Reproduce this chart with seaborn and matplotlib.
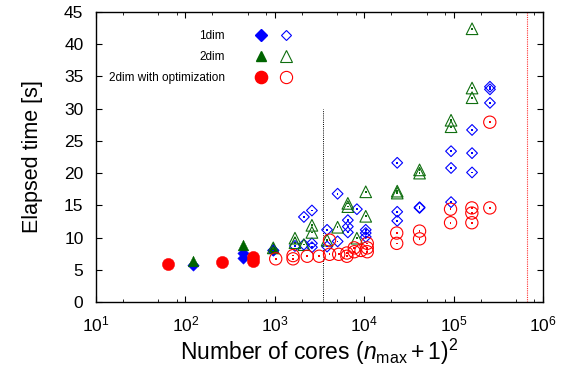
import matplotlib
matplotlib.use("Agg")
import matplotlib.pyplot as plt
from matplotlib.ticker import LogLocator, NullFormatter
from matplotlib.legend_handler import HandlerTuple
from matplotlib.lines import Line2D
import seaborn as sns
import pandas as pd

# ---------------- data ----------------
# filled markers
d1_fill_x = [121, 441, 441, 961]
d1_fill_y = [5.7, 7.6, 6.9, 8.0]
d2_fill_x = [121, 441, 961]
d2_fill_y = [6.4, 8.8, 8.4]
opt_fill_x = [64, 256, 576, 576]
opt_fill_y = [5.9, 6.25, 7.0, 6.4]

# open markers
d1_open_x = [961, 1681, 2116, 2116, 2601, 2601, 2601, 3844, 3844, 5041, 5041,
             6561, 6561, 6561, 8281, 10404, 10404, 10404, 23409, 23409, 23409,
             41616, 41616, 93636, 93636, 93636, 160801, 160801, 160801,
             255025, 255025, 255025]
d1_open_y = [8.0, 8.7, 13.2, 8.9, 14.2, 9.1, 8.5, 11.2, 8.6, 16.8, 9.4,
             12.7, 11.7, 10.8, 14.4, 11.2, 10.7, 10.1, 21.6, 14.0, 12.6,
             14.6, 14.7, 23.4, 20.8, 15.5, 26.7, 23.1, 20.1,
             33.4, 33.0, 30.9]
d2_open_x = [961, 1681, 1681, 2116, 2601, 2601, 3844, 5041, 6561, 6561, 8281,
             10404, 10404, 23409, 23409, 41616, 41616, 93636, 93636,
             160801, 160801, 160801]
d2_open_y = [8.4, 9.9, 9.2, 8.9, 11.9, 10.8, 9.6, 11.6, 15.3, 14.8, 9.9,
             17.1, 13.3, 17.2, 16.9, 20.5, 20.0, 28.2, 27.2,
             42.4, 33.2, 31.7]
opt_open_x = [1024, 1600, 1600, 2304, 3136, 4096, 4096, 5184, 6400, 6400,
              7744, 7744, 9216, 10816, 10816, 10816, 23104, 23104, 41616, 41616,
              92416, 92416, 160000, 160000, 160000, 254016, 254016]
opt_open_y = [6.7, 7.2, 6.7, 7.1, 7.1, 9.6, 7.4, 7.4, 7.6, 7.1,
              8.4, 7.8, 8.0, 9.1, 8.4, 7.8, 10.7, 9.1, 11.0, 9.8,
              14.4, 12.3, 14.6, 13.8, 12.3, 27.9, 14.6]

labels = ["1dim", "2dim", "2dim with optimization"]
vline_black_x = 3456
vline_black_ymax = 30.0
vline_red_x = 663552
xlim = (10, 1e6)
ylim = (0, 45)
yticks = list(range(0, 50, 5))

# ---------------- style ----------------
sns.set_theme(style="white")
plt.rcParams['font.family'] = ['Liberation Sans', 'DejaVu Sans']
plt.rcParams['mathtext.fontset'] = 'custom'
plt.rcParams['mathtext.rm'] = 'Liberation Sans'
plt.rcParams['mathtext.it'] = 'Liberation Sans:italic'
plt.rcParams['mathtext.bf'] = 'Liberation Sans:bold'
plt.rcParams['text.color'] = 'black'
plt.rcParams['axes.labelcolor'] = 'black'
plt.rcParams['xtick.color'] = 'black'
plt.rcParams['ytick.color'] = 'black'

BLUE = "#0000ff"
GREEN = "#006400"
GREEN_O = "#0f6e0f"
RED = "#ff0000"

fig = plt.figure(figsize=(5.73, 3.73), dpi=100)
ax = fig.add_axes([96/573, 1 - 302/373, 447/573, 290/373])

def df(x, y):
    return pd.DataFrame({"x": x, "y": y})

# filled
sns.scatterplot(data=df(d1_fill_x, d1_fill_y), x="x", y="y", ax=ax, marker="D",
                s=34, color=BLUE, edgecolor=BLUE, linewidth=0.3, zorder=3)
sns.scatterplot(data=df(d2_fill_x, d2_fill_y), x="x", y="y", ax=ax, marker="^",
                s=60, color=GREEN, edgecolor=GREEN, linewidth=0.3, zorder=3)
sns.scatterplot(data=df(opt_fill_x, opt_fill_y), x="x", y="y", ax=ax, marker="o",
                s=78, color=RED, edgecolor=RED, linewidth=0.3, zorder=3)

# open
for xs, ys, mk, sz, col in [(d1_open_x, d1_open_y, "D", 30, BLUE),
                            (d2_open_x, d2_open_y, "^", 70, GREEN_O),
                            (opt_open_x, opt_open_y, "o", 78, RED)]:
    sns.scatterplot(data=df(xs, ys), x="x", y="y", ax=ax, marker=mk, s=sz,
                    facecolor="none", edgecolor=col, linewidth=0.8, zorder=3)
    sns.scatterplot(data=df(xs, ys), x="x", y="y", ax=ax, marker="s", s=1.5,
                    color=col, edgecolor="none", linewidth=0, zorder=4)

# vertical dotted lines
ax.plot([vline_black_x, vline_black_x], [0, vline_black_ymax], color="black",
        lw=0.7, ls=(0, (1, 1.2)), zorder=2)
ax.axvline(vline_red_x, color="#ff3030", lw=0.8, ls=(0, (1, 1.0)), zorder=2)

ax.set_xscale("log")
ax.set_xlim(*xlim)
ax.set_ylim(*ylim)
ax.set_yticks(yticks)
ax.xaxis.set_major_locator(LogLocator(base=10, numticks=10))
ax.xaxis.set_minor_locator(LogLocator(base=10, subs=[2, 5, 8], numticks=20))
ax.xaxis.set_minor_formatter(NullFormatter())

for sp in ax.spines.values():
    sp.set_color("black")
    sp.set_linewidth(1.0)

ax.tick_params(axis="both", which="major", direction="in", length=4.5, width=0.8,
               top=True, right=True, bottom=True, left=True,
               labelsize=12.5, pad=9, colors="black")
ax.tick_params(axis="x", which="minor", direction="in", length=2.5, width=0.6,
               top=True, bottom=True)

ax.set_xlabel(r"Number of cores $(n_{\rm max}+1)^2$", fontsize=16.5, labelpad=2)
ax.set_ylabel("Elapsed time [s]", fontsize=15.5, labelpad=15)

# legend
h_fill = [Line2D([], [], ls="none", marker="D", ms=5.8, color=BLUE),
          Line2D([], [], ls="none", marker="^", ms=7.7, color=GREEN),
          Line2D([], [], ls="none", marker="o", ms=8.8, color=RED)]
h_open = [Line2D([], [], ls="none", marker="D", ms=5.5, mfc="none", mec=BLUE, mew=0.8),
          Line2D([], [], ls="none", marker="^", ms=8.4, mfc="none", mec=GREEN_O, mew=0.8),
          Line2D([], [], ls="none", marker="o", ms=8.8, mfc="none", mec=RED, mew=0.8)]
handles = [(f, o) for f, o in zip(h_fill, h_open)]
leg = ax.legend(handles, labels, handler_map={tuple: HandlerTuple(ndivide=None, pad=1.2)},
                loc="upper left", bbox_to_anchor=(0.01, 0.965), frameon=False,
                markerfirst=False, fontsize=8.5, handlelength=3.0, handletextpad=2.6,
                labelspacing=0.75, borderaxespad=0.3)

fig.savefig("out.png", dpi=100)
